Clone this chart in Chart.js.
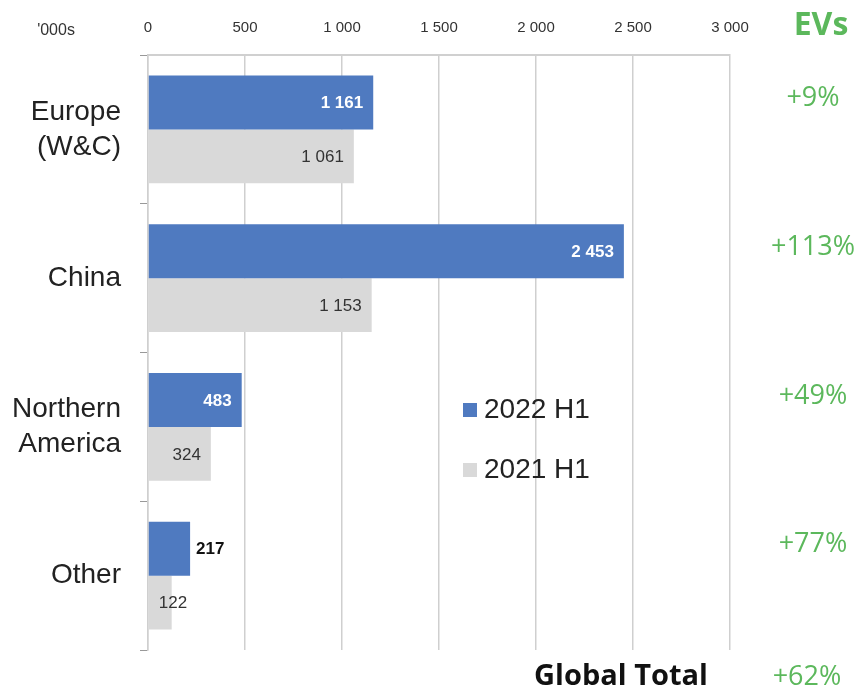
<!DOCTYPE html>
<html>
<head>
<meta charset="utf-8">
<script src="https://cdn.jsdelivr.net/npm/chart.js@4"></script>
<style>
  html, body { margin: 0; padding: 0; background: #fff; }
  #wrap { position: relative; width: 864px; height: 694px; }
</style>
</head>
<body>
<div id="wrap"><canvas id="chart" width="864" height="694"></canvas></div>
<script>
const REGIONS = [["Europe", "(W&C)"], "China", ["Northern", "America"], "Other"];
const SALES_2022 = [1161, 2453, 483, 217];
const SALES_2021 = [1061, 1153, 324, 122];
const GROWTH = ["+9%", "+113%", "+49%", "+77%"];
const GLOBAL_GROWTH = "+62%";
const X_TICKS = [0, 500, 1000, 1500, 2000, 2500, 3000];

const BLUE = "#4f7ac0";
const GREY = "#d9d9d9";
const GREEN = "#5cb85c";

function fmt(v) {
  return String(v).replace(/\B(?=(\d{3})+(?!\d))/g, " ");
}

// value labels at the end of each bar, legend and growth column
const extras = {
  id: "extras",
  afterDatasetsDraw(chart) {
    const ctx = chart.ctx;
    const yScale = chart.scales.y;

    ctx.save();
    chart.data.datasets.forEach((ds, di) => {
      const meta = chart.getDatasetMeta(di);
      meta.data.forEach((bar, i) => {
        const bold = di === 0;
        ctx.font = (bold ? "bold " : "") + "17px 'Liberation Sans', Arial";
        const text = fmt(ds.data[i]);
        const w = ctx.measureText(text).width;
        ctx.textBaseline = "middle";
        if (bar.x - bar.base > w + 20) {
          ctx.textAlign = "right";
          ctx.fillStyle = bold ? "#fff" : "#333";
          ctx.fillText(text, bar.x - 10, bar.y + 1);
        } else {
          ctx.textAlign = "left";
          ctx.fillStyle = bold ? "#111" : "#333";
          ctx.fillText(text, bold ? bar.x + 6 : bar.base + 10, bar.y + 1);
        }
      });
    });

    // legend
    const legend = [["2022 H1", BLUE, 410], ["2021 H1", GREY, 470]];
    legend.forEach(([label, color, y]) => {
      ctx.fillStyle = color;
      ctx.fillRect(463, y - 7, 14, 14);
      ctx.fillStyle = "#222";
      ctx.font = "28px 'Liberation Sans', Arial";
      ctx.textAlign = "left";
      ctx.textBaseline = "middle";
      ctx.fillText(label, 484, y);
    });

    // growth column
    ctx.fillStyle = GREEN;
    ctx.textAlign = "center";
    ctx.textBaseline = "middle";
    ctx.font = "bold 32px 'Open Sans'";
    ctx.fillText("EVs", 821, 26);
    ctx.font = "27px 'Open Sans'";
    GROWTH.forEach((g, i) => {
      ctx.fillText(g, 813, yScale.getPixelForValue(i) - 31);
    });
    ctx.fillText(GLOBAL_GROWTH, 807, 677);

    ctx.fillStyle = "#111";
    ctx.font = "bold 29px 'Open Sans'";
    ctx.fillText("Global Total", 621, 677);

    ctx.fillStyle = "#333";
    ctx.font = "16px 'Liberation Sans', Arial";
    ctx.fillText("'000s", 56, 31);
    ctx.restore();
  }
};

new Chart(document.getElementById("chart"), {
  type: "bar",
  data: {
    labels: REGIONS,
    datasets: [
      { label: "2022 H1", data: SALES_2022, backgroundColor: BLUE },
      { label: "2021 H1", data: SALES_2021, backgroundColor: GREY }
    ]
  },
  options: {
    indexAxis: "y",
    responsive: false,
    animation: false,
    categoryPercentage: 0.726,
    barPercentage: 1.0,
    layout: { padding: { left: 0, right: 134, top: 0, bottom: 44 } },
    plugins: {
      legend: { display: false },
      tooltip: { enabled: false }
    },
    scales: {
      x: {
        position: "top",
        min: 0,
        max: 3000,
        afterBuildTicks: (scale) => { scale.ticks = X_TICKS.map(v => ({ value: v })); },
        afterFit: (scale) => { scale.height = 55; },
        border: { color: "#d0d0d0", width: 2 },
        grid: { color: "#cfcfcf", lineWidth: 1.5, drawTicks: false },
        ticks: {
          color: "#333",
          padding: 18,
          maxRotation: 0,
          font: { family: "'Liberation Sans', Arial", size: 15 },
          callback: (v) => fmt(v)
        }
      },
      y: {
        afterFit: (scale) => {
          scale.width = 148;
          scale.paddingTop = 0;
          scale.paddingBottom = 0;
        },
        border: { color: "#cfcfcf", width: 1.5 },
        grid: { drawOnChartArea: false, drawTicks: true, tickLength: 8, color: "#999" },
        ticks: {
          color: "#222",
          padding: 19,
          font: { family: "'Liberation Sans', Arial", size: 28, lineHeight: 1.25 }
        }
      }
    }
  },
  plugins: [extras]
});
</script>
</body>
</html>
